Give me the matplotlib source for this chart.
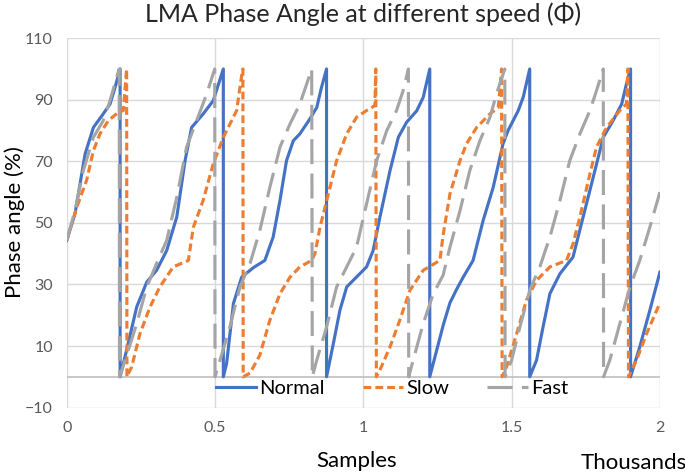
import matplotlib
matplotlib.use("Agg")
import matplotlib.pyplot as plt

# values (x in thousands of samples, y in %)
normal_x = [0.000, 0.028, 0.062, 0.090, 0.123, 0.146, 0.163, 0.180,
            0.180, 0.202, 0.236, 0.270, 0.303, 0.337, 0.371, 0.399, 0.421, 0.460, 0.494, 0.528,
            0.528, 0.539, 0.562, 0.590, 0.630, 0.668, 0.696, 0.719, 0.741, 0.764, 0.786, 0.820, 0.843, 0.859, 0.876,
            0.876, 0.899, 0.921, 0.944, 0.977, 1.011, 1.033, 1.056, 1.090, 1.118, 1.146, 1.180, 1.202, 1.224,
            1.224, 1.247, 1.270, 1.292, 1.315, 1.337, 1.370, 1.404, 1.438, 1.471, 1.488, 1.522, 1.539, 1.561,
            1.561, 1.584, 1.606, 1.629, 1.663, 1.707, 1.741, 1.775, 1.809, 1.842, 1.871, 1.887, 1.901,
            1.901, 1.932, 1.966, 2.000]
normal_y = [44.3, 53.0, 72.4, 81.0, 85.4, 88.6, 94.0, 100,
            0, 8.7, 22.7, 30.8, 34.6, 41.0, 51.9, 70.2, 81.0, 85.4, 89.7, 100,
            0, 4.3, 23.8, 32.4, 35.5, 37.8, 45.4, 57.3, 70.2, 76.7, 78.9, 83.8, 87.5, 94.0, 100,
            0, 10.8, 21.6, 29.2, 32.4, 35.7, 41.0, 51.9, 67.0, 77.8, 82.7, 86.4, 90.8, 100,
            0, 8.5, 17.0, 24.0, 28.5, 32.4, 37.8, 50.8, 61.6, 75.7, 80.0, 86.4, 90.8, 100,
            0, 5.4, 16.2, 27.0, 33.5, 38.9, 51.9, 64.8, 77.8, 83.2, 88.6, 95.1, 100,
            0, 9.7, 21.6, 34.0]

slow_x = [0.000, 0.034, 0.067, 0.090, 0.112, 0.140, 0.174, 0.191, 0.197, 0.202,
          0.203, 0.219, 0.247, 0.281, 0.314, 0.359, 0.410, 0.427, 0.460, 0.494, 0.528, 0.573, 0.590, 0.594,
          0.595, 0.618, 0.651, 0.685, 0.719, 0.753, 0.786, 0.826, 0.837, 0.854, 0.882, 0.910, 0.944, 0.977,
          1.011, 1.039, 1.042,
          1.044, 1.056, 1.090, 1.123, 1.157, 1.202, 1.258, 1.269, 1.292, 1.326, 1.348, 1.382, 1.427, 1.455,
          1.466,
          1.468, 1.483, 1.517, 1.550, 1.584, 1.629, 1.685, 1.707, 1.730, 1.764, 1.786, 1.820, 1.865, 1.887,
          1.892,
          1.894, 1.921, 1.955, 2.000]
slow_y = [44.3, 55.1, 63.8, 73.5, 78.9, 83.2, 85.9, 86.5, 94.0, 100,
          0, 3.2, 14.0, 22.7, 29.2, 35.7, 37.8, 48.6, 57.3, 69.2, 77.8, 86.5, 98.0, 100,
          0, 1.2, 7.0, 18.4, 27.0, 32.4, 35.7, 37.8, 40.0, 48.6, 59.4, 70.2, 78.9, 84.3,
          86.5, 88.1, 100,
          0, 2.2, 9.7, 18.4, 28.1, 34.6, 37.8, 46.0, 59.4, 70.2, 75.7, 81.0, 85.4, 87.5,
          100,
          0, 3.2, 14.0, 24.9, 31.3, 35.7, 37.8, 43.2, 51.9, 65.9, 74.6, 81.0, 86.5, 88.6,
          100,
          0, 5.4, 14.0, 24.0]

fast_x = [0.000, 0.028, 0.056, 0.090, 0.123, 0.146, 0.168, 0.177,
          0.178, 0.197, 0.236, 0.270, 0.303, 0.337, 0.371, 0.404, 0.438, 0.472, 0.499,
          0.500, 0.517, 0.550, 0.584, 0.618, 0.651, 0.685, 0.719, 0.753, 0.786, 0.809, 0.826,
          0.828, 0.843, 0.876, 0.910, 0.944, 0.977, 1.011, 1.045, 1.079, 1.112, 1.134, 1.152,
          1.153, 1.168, 1.202, 1.236, 1.269, 1.292, 1.326, 1.359, 1.393, 1.427, 1.449, 1.477,
          1.478, 1.500, 1.528, 1.561, 1.595, 1.629, 1.663, 1.696, 1.730, 1.764, 1.786, 1.809,
          1.810, 1.831, 1.865, 1.899, 1.932, 1.966, 2.000]
fast_y = [44.3, 54.0, 67.0, 77.8, 83.2, 89.7, 97.2, 100,
          0, 5.4, 17.3, 29.2, 36.8, 44.3, 58.3, 74.6, 83.2, 91.9, 100,
          0, 5.4, 16.2, 29.2, 36.8, 47.5, 61.6, 74.6, 82.2, 88.6, 95.1, 100,
          0, 5.4, 16.2, 29.2, 35.7, 42.1, 56.2, 70.2, 80.0, 86.5, 92.9, 100,
          0, 5.4, 17.3, 27.0, 33.0, 42.1, 54.0, 67.0, 76.7, 84.3, 91.9, 100,
          0, 5.4, 16.2, 28.1, 35.7, 45.4, 57.3, 70.2, 78.9, 86.5, 92.9, 100,
          0, 5.4, 17.3, 29.2, 37.8, 48.6, 60.0]

x_ticks = [0, 0.5, 1, 1.5, 2]
x_tick_labels = ["0", "0.5", "1", "1.5", "2"]
y_ticks = [-10, 10, 30, 50, 70, 90, 110]

plt.rcParams['font.family'] = ['Lato', 'DejaVu Sans']

fig = plt.figure(figsize=(6.85, 4.73), dpi=100)
ax = fig.add_axes([0.0974, 0.1383, 0.866, 0.781])

lw = 2.25
ax.plot(normal_x, normal_y, color='#4472C4', lw=lw, label='Normal', zorder=3)
ax.plot(slow_x, slow_y, color='#ED7D31', lw=lw, dashes=(2.5, 1.3), label='Slow', zorder=4)
ax.plot(fast_x, fast_y, color='#A5A5A5', lw=lw, dashes=(8, 3), label='Fast', zorder=5)

ax.set_xlim(0, 2)
ax.set_ylim(-10, 110)
ax.set_xticks(x_ticks)
ax.set_xticklabels(x_tick_labels)
ax.set_yticks(y_ticks)
ax.grid(True, color='#D9D9D9', lw=1.0)
ax.set_axisbelow(True)
ax.axhline(0, color='#BFBFBF', lw=1.2, zorder=2)
for s in ax.spines.values():
    s.set_visible(False)
ax.tick_params(length=0, labelsize=11.5, labelcolor='#595959', pad=10)

fig.text(0.53, 0.970, 'LMA Phase Angle at different speed (Φ)', fontsize=18,
         color='#262626', ha='center', va='center')
fig.text(0.521, 0.025, 'Samples', fontsize=16, ha='center', va='center')
fig.text(0.022, 0.53, 'Phase angle (%)', fontsize=16, rotation=90, ha='center', va='center')
fig.text(0.847, 0.021, 'Thousands', fontsize=16, ha='left', va='center')

ax.legend(loc='center', bbox_to_anchor=(0.548, 0.053), ncol=3, frameon=False,
          fontsize=14.5, handlelength=2.0, handletextpad=0.15, columnspacing=1.9,
          borderpad=0)

fig.savefig('out.png', dpi=100)
